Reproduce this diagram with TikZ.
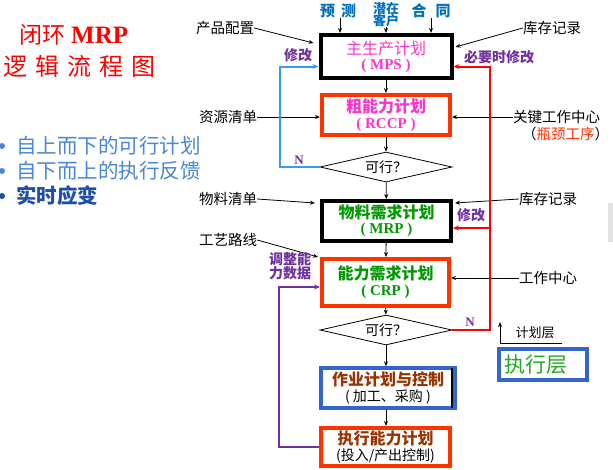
\documentclass[tikz,border=0pt]{standalone}
\usepackage{fontspec}
\setmainfont{Liberation Serif}
\newfontfamily\cjk{Noto Sans CJK SC}
\usetikzlibrary{arrows.meta,shapes.geometric,calc}
\definecolor{boxred}{HTML}{FF3300}
\definecolor{magt}{HTML}{FF33CC}
\definecolor{grn}{HTML}{009900}
\definecolor{brn}{HTML}{993300}
\definecolor{purp}{HTML}{7030A0}
\definecolor{bblue}{HTML}{3366CC}
\definecolor{lblue}{HTML}{3399FF}
\definecolor{tblue}{HTML}{0070C0}
\definecolor{bulblue}{HTML}{4A86D8}
\definecolor{dkblue}{HTML}{1F4EAA}
\definecolor{zgreen}{HTML}{22AA22}
\newcommand\myfs[1]{\fontsize{#1}{#1}\selectfont}
\tikzset{
  arr/.style={-{Stealth[length=5pt,width=4pt]}, line width=0.8pt},
  fbarr/.style={-{Stealth[length=6pt,width=5pt]}, line width=2pt},
  mbox/.style={draw, line width=4pt, align=center, inner sep=0pt},
  dia/.style={draw, diamond, aspect=4.4, inner sep=0pt, minimum width=132pt, minimum height=30pt, line width=0.8pt, font=\cjk\myfs{14}},
  lbl/.style={font=\cjk\myfs{14.5}, inner sep=0pt},
  plbl/.style={font=\cjk\bfseries\myfs{14}, text=purp, inner sep=0pt},
  nlbl/.style={font=\bfseries\myfs{13}, text=purp, inner sep=0pt},
  tlbl/.style={font=\cjk\bfseries\myfs{15}, text=tblue, inner sep=0pt},
}
\begin{document}
\begin{tikzpicture}[x=1pt,y=-1pt]
\useasboundingbox (0,0) rectangle (613,469);
\fill[white] (0,0) rectangle (613,469);
\fill[gray!22] (608,203) rectangle (613,242);

% ---- left title and bullets
\node[anchor=west, text=red, inner sep=0pt] (t1) at (19,35)
  {{\cjk\myfs{23}闭环}\hspace{6pt}{\bfseries\myfs{25}MRP}};
\node[anchor=west, text=red, inner sep=0pt, font=\cjk\myfs{24}] (t2) at (3,66)
  {逻\hspace{8pt}辑\hspace{8pt}流\hspace{8pt}程\hspace{8pt}图};
\fill[bulblue] (2,146) circle (3);
\fill[bulblue] (2,171) circle (3);
\fill[dkblue] (2,196) circle (3);
\node[anchor=west, text=bulblue, inner sep=0pt, font=\cjk\myfs{20.5}] (b1) at (16,146) {自上而下的可行计划};
\node[anchor=west, text=bulblue, inner sep=0pt, font=\cjk\myfs{20.5}] (b2) at (16,171) {自下而上的执行反馈};
\node[anchor=west, text=dkblue, inner sep=0pt, font=\cjk\bfseries\myfs{20.5}] (b3) at (16,196) {实时应变};

% ---- main boxes
\node[mbox, minimum width=131pt, minimum height=43pt] (mps) at (386,56.5)
  {{\cjk\myfs{16}\color{magt}主生产计划}\\[3pt]{\bfseries\myfs{15}\color{magt}( MPS )}};
\node[mbox, draw=boxred, minimum width=128pt, minimum height=40pt] (rccp) at (386,115)
  {{\cjk\bfseries\myfs{16}\color{magt}粗能力计划}\\[3pt]{\bfseries\myfs{15}\color{magt}( RCCP )}};
\node[dia] (d1) at (386,167) {可行？};
\node[mbox, minimum width=129pt, minimum height=40pt] (mrp) at (386.5,221)
  {{\cjk\bfseries\myfs{16}\color{grn}物料需求计划}\\[3pt]{\bfseries\myfs{15}\color{grn}( MRP )}};
\node[mbox, draw=boxred, minimum width=127pt, minimum height=47pt] (crp) at (385.5,282.5)
  {{\cjk\bfseries\myfs{16}\color{grn}能力需求计划}\\[3pt]{\bfseries\myfs{15}\color{grn}( CRP )}};
\node[dia] (d2) at (386,330) {可行？};
\node[mbox, draw=bblue, line width=3.5pt, minimum width=134pt, minimum height=40pt] (op) at (388,388)
  {{\cjk\bfseries\myfs{16}\color{brn}作业计划与控制}\\[1pt]{\cjk\myfs{14}( 加工、采购 )}};
\draw[line width=2pt] ($(op.north east)+(-5,2)$) -- ($(op.south east)+(-5,-2)$);
\node[mbox, draw=boxred, minimum width=129pt, minimum height=38pt] (ex) at (385.5,447)
  {{\cjk\bfseries\myfs{16}\color{brn}执行能力计划}\\[1pt]{\cjk\myfs{14}(投入/产出控制)}};
\node[draw=bblue, line width=3.5pt, minimum width=88pt, minimum height=31pt, inner sep=0pt,
  font=\cjk\myfs{21}, text=zgreen] (zx) at (543,364.5) {\hspace{-14pt}执行层};

% ---- vertical flow arrows
\draw[arr] (mps) -- (rccp);
\draw[arr] (rccp) -- (d1);
\draw[arr] (d1) -- (mrp);
\draw[arr] (mrp) -- (crp);
\draw[arr] (crp) -- (d2);
\draw[arr] (d2) -- (op.north -| d2.south);
\draw[arr] (op.south -| d2.south) -- (ex.north -| d2.south);

% ---- top inputs
\node[tlbl] (yc) at (338,11) {预\hspace{6pt}测};
\node[tlbl, align=center, font=\cjk\bfseries\myfs{13}] (kh) at (386,15) {潜在\\[-1pt]客户};
\node[tlbl] (ht) at (431,11) {合\hspace{9pt}同};
\draw[arr] (yc.south -| 340,0) -- (mps.north -| 340,0);
\draw[arr] (kh.south) -- (kh.south |- mps.north);
\draw[arr] (ht.south) -- (ht.south |- mps.north);

% ---- side inputs
\node[lbl] (cp) at (225,28) {产品配置};
\draw[arr] (cp.east) -- ($(mps.north west)+(-5,10)$);
\node[lbl] (kc1) at (552,28) {库存记录};
\draw[arr] (kc1.west) -- ($(mps.north east)+(2,14)$);
\node[lbl] (zy) at (228,117) {资源清单};
\draw[arr] (zy.east) -- (zy.east -| rccp.west);
\node[lbl, anchor=west] (gj) at (513,117) {关键工作中心};
\draw[arr] (gj.west) -- (gj.west -| rccp.east);
\node[lbl, anchor=west] (pj) at (522,134) {（{\color{boxred}瓶颈工序}）};
\node[lbl] (wl) at (228,199) {物料清单};
\draw[arr] (wl.east) -- ($(mrp.north west)+(-5,4)$);
\node[lbl] (kc2) at (548,199) {库存记录};
\draw[arr] (kc2.west) -- ($(mrp.north east)+(2,4)$);
\node[lbl] (gy) at (228,240) {工艺路线};
\draw[arr] (gy.east) -- ($(crp.north west)+(-2,0)$);
\node[lbl] (gz) at (548,278) {工作中心};
\draw[arr] (gz.west) -- (gz.west -| crp.east);

% ---- feedback loops
\draw[fbarr, lblue] (d1.west) -- ++(-40,0) |- ($(mps.west)+(0,10)$);
\draw[fbarr, red] (d2.east) -- ++(38,0) |- ($(mps.east)+(0,10)$);
\coordinate (rb) at (490,228);
\draw[fbarr, red] (rb) -- (rb -| mrp.east);
\draw[fbarr, purp, line width=2.4pt] (ex.west) -- ++(-40,0) |- ($(crp.west)+(0,4.5)$);

\node[plbl] (xg1) at (298,55) {修改};
\node[plbl] (byx) at (499,57) {必要时修改};
\node[plbl] (xg2) at (471,215) {修改};
\node[nlbl] (n1) at (299,160) {N};
\node[nlbl] (n2) at (470,322) {N};
\node[plbl, align=center] (tz) at (290,266) {调整能\\[0pt]力数据};

% ---- legend
\node[font=\cjk\myfs{13}, inner sep=0pt] (jh) at (535,333) {计划层};
\coordinate (ja) at (500,343);
\draw[line width=1pt] (ja) -- (ja -| 562,0);
\draw[arr] (ja) -- ++(0,-21);
\end{tikzpicture}
\end{document}
